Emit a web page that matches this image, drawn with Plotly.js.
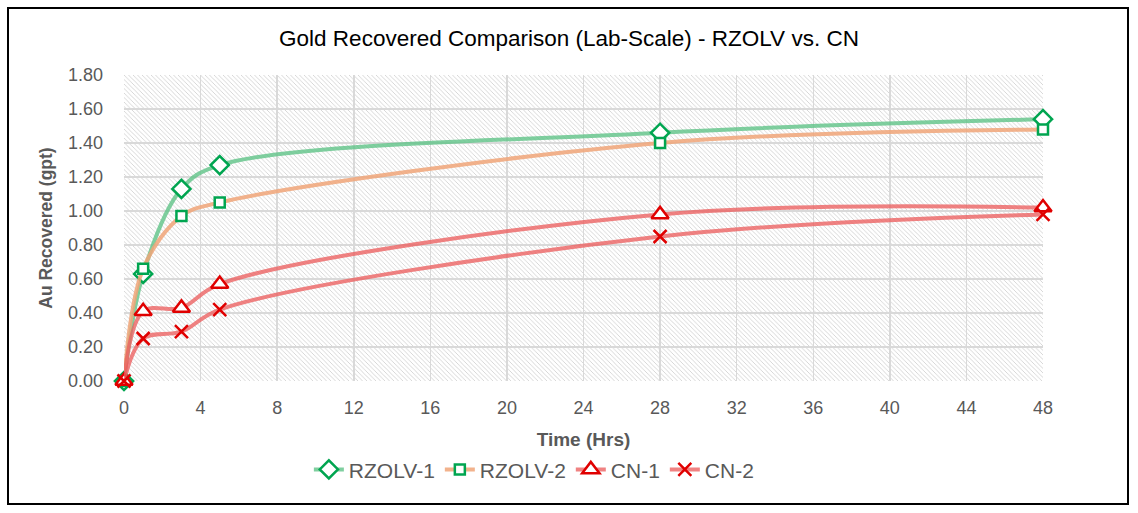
<!DOCTYPE html>
<html>
<head>
<meta charset="utf-8">
<script src="https://cdn.plot.ly/plotly-3.0.1.min.js"></script>
<style>
html,body{margin:0;padding:0;background:#fff;}
#wrap{position:relative;width:1138px;height:513px;}
#chart{width:1138px;height:513px;}
#border{position:absolute;left:7px;top:7px;width:1122px;height:498px;border:2px solid #000;pointer-events:none;box-sizing:border-box;}
</style>
</head>
<body>
<div id="wrap"><div id="chart"></div><div id="border"></div></div>
<script>
const timeHrs = [0, 1, 3, 5, 28, 48];
const rzolv1 = [0.00, 0.63, 1.13, 1.27, 1.46, 1.54];
const rzolv2 = [0.00, 0.66, 0.97, 1.05, 1.40, 1.48];
const cn1 = [0.00, 0.41, 0.43, 0.57, 0.98, 1.02];
const cn2 = [0.00, 0.25, 0.29, 0.42, 0.85, 0.98];
const seriesNames = ["RZOLV-1", "RZOLV-2", "CN-1", "CN-2"];
const xTicks = [0, 4, 8, 12, 16, 20, 24, 28, 32, 36, 40, 44, 48];

const font = "Liberation Sans, Arial, sans-serif";
const gray = "#595959";

function tr(name, y, lineColor, symbol, fill, mColor, mSize) {
  return {
    x: timeHrs, y: y, name: name, type: "scatter", mode: "lines+markers",
    line: {color: lineColor, width: 4, shape: "spline", smoothing: 1},
    marker: {symbol: symbol, size: mSize, color: fill,
             line: {color: mColor, width: 2.5}},
    cliponaxis: false
  };
}
const data = [
  tr(seriesNames[0], rzolv1, "rgba(95,195,135,0.8)", "diamond", "#ffffff", "#00a550", 14),
  tr(seriesNames[1], rzolv2, "rgba(240,165,120,0.85)", "square", "#ffffff", "#00a550", 10),
  tr(seriesNames[2], cn1, "rgba(236,95,95,0.78)", "triangle-up", "#ffffff", "#e00000", 15),
  tr(seriesNames[3], cn2, "rgba(236,95,95,0.78)", "x-thin", "#e00000", "#e00000", 13)
];

const svg = '<svg xmlns="http://www.w3.org/2000/svg" width="919" height="306">' +
  '<defs><pattern id="h" width="4.5" height="4.5" patternUnits="userSpaceOnUse">' +
  '<path d="M-1,-1 L5.5,5.5 M-5.5,-1 L1,5.5 M3.5,-1 L10,5.5" stroke="#d3d3d3" stroke-width="0.9"/></pattern></defs>' +
  '<rect width="919" height="306" fill="#fff"/><rect width="919" height="306" fill="url(#h)"/></svg>';

const layout = {
  width: 1138, height: 513,
  margin: {l: 124, r: 95, t: 75, b: 132},
  paper_bgcolor: "#fff", plot_bgcolor: "rgba(0,0,0,0)",
  font: {family: font, color: gray, size: 18},
  title: {text: "Gold Recovered Comparison (Lab-Scale) - RZOLV vs. CN",
          font: {family: font, size: 22.5, color: "#000"},
          x: 0.5, xanchor: "center", y: 0.925, yanchor: "middle", yref: "container"},
  xaxis: {range: [0, 48], tickvals: xTicks, ticktext: xTicks.map(String),
          showgrid: true, gridcolor: "#d9d9d9", gridwidth: 1.5, zeroline: false,
          showline: false, ticks: "", ticklabelstandoff: 14, tickfont: {size: 18, color: gray},
          title: {text: "<b>Time (Hrs)</b>", font: {size: 19, color: gray}, standoff: 15}},
  yaxis: {range: [0, 1.8], dtick: 0.2, tickformat: ".2f",
          showgrid: true, gridcolor: "#d9d9d9", gridwidth: 1.5, zeroline: false,
          showline: false, ticks: "", ticklabelstandoff: 20, tickfont: {size: 18, color: gray},
          title: {text: "<b>Au Recovered (gpt)</b>", font: {size: 17.5, color: gray}, standoff: 10}},
  legend: {orientation: "h", x: 0.446, xanchor: "center", y: -0.29, yanchor: "middle",
           font: {size: 21, color: gray}, traceorder: "normal", itemwidth: 30,
           bgcolor: "rgba(0,0,0,0)"},
  images: [{source: "data:image/svg+xml;charset=utf-8," + encodeURIComponent(svg),
            xref: "paper", yref: "paper", x: 0, y: 1, sizex: 1, sizey: 1,
            xanchor: "left", yanchor: "top", sizing: "stretch", layer: "below"}],
  showlegend: true
};
Plotly.newPlot("chart", data, layout, {displayModeBar: false, staticPlot: true});
</script>
</body>
</html>
